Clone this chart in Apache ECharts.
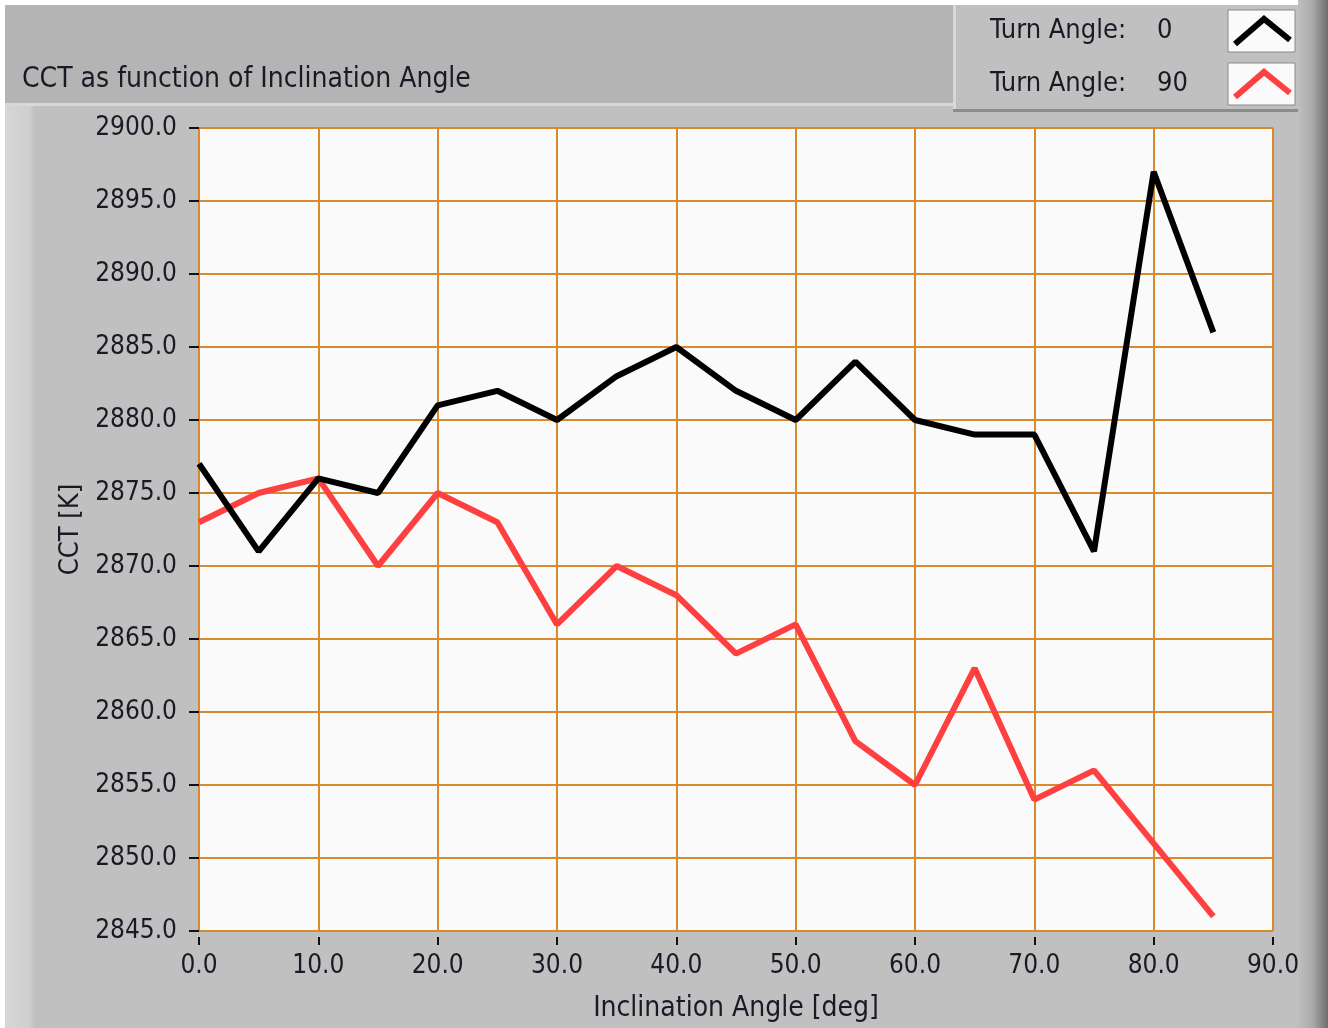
<!DOCTYPE html>
<html>
<head>
<meta charset="utf-8">
<script src="https://cdn.jsdelivr.net/npm/echarts@6/dist/echarts.min.js"></script>
<style>
html,body{margin:0;padding:0;background:#ffffff;}
#chart{width:1328px;height:1028px;}
</style>
</head>
<body>
<div id="chart"></div>
<script>
// ---- data ----
const inclination = [0, 5, 10, 15, 20, 25, 30, 35, 40, 45, 50, 55, 60, 65, 70, 75, 80, 85];
const cctTurn0  = [2877, 2871, 2876, 2875, 2881, 2882, 2880, 2883, 2885, 2882, 2880, 2884, 2880, 2879, 2879, 2871, 2897, 2886];
const cctTurn90 = [2873, 2875, 2876, 2870, 2875, 2873, 2866, 2870, 2868, 2864, 2866, 2858, 2855, 2863, 2854, 2856, 2851, 2846];
const seriesNames = ['0', '90'];
const seriesColors = ['#000000', '#ff4040'];
const titleText = 'CCT as function of Inclination Angle';
const xName = 'Inclination Angle [deg]';
const yName = 'CCT [K]';
const legendPrefix = 'Turn Angle:';

const FONT = '"Liberation Sans Narrow", "DejaVu Sans Condensed", "DejaVu Sans", sans-serif';
const TXT = '#1a1a26';
const GRIDC = '#d88a2c';

const pairs = (ys) => inclination.map((x, i) => [x, ys[i]]);

const chart = echarts.init(document.getElementById('chart'), null, {renderer: 'canvas'});

function legendRow(i, cy) {
  return [
    {type: 'rect', z: -96, shape: {x: 1228, y: cy - 21, width: 67, height: 42}, style: {fill: '#fafafa', stroke: '#8a8a8a', lineWidth: 1}},
    {type: 'polyline', z: 5, shape: {points: [[1235, cy + 13], [1264, cy - 12], [1290, cy + 9]]},
     style: {stroke: seriesColors[i], lineWidth: 6, fill: null}},
    {type: 'text', z: 10, x: 990, y: cy, style: {text: legendPrefix, fill: TXT, font: '27px ' + FONT, verticalAlign: 'middle'}},
    {type: 'text', z: 10, x: 1157, y: cy, style: {text: seriesNames[i], fill: TXT, font: '27px ' + FONT, verticalAlign: 'middle'}}
  ];
}

chart.setOption({
  animation: false,
  backgroundColor: '#ffffff',
  graphic: [
    // main panel
    {type: 'rect', z: -100, shape: {x: 5, y: 103, width: 1323, height: 925}, style: {fill: '#c0c0c0'}},
    // left light strip
    {type: 'rect', z: -99, shape: {x: 5, y: 103, width: 30, height: 925},
     style: {fill: new echarts.graphic.LinearGradient(0, 0, 1, 0, [{offset: 0, color: '#d6d6d6'}, {offset: 0.8, color: '#cfcfcf'}, {offset: 1, color: '#c0c0c0'}])}},
    // right dark strip
    {type: 'rect', z: -99, shape: {x: 1298, y: 0, width: 30, height: 1028},
     style: {fill: new echarts.graphic.LinearGradient(0, 0, 1, 0, [{offset: 0, color: '#c0c0c0'}, {offset: 0.5, color: '#a8a8a8'}, {offset: 1, color: '#6e6e6e'}])}},
    // top title band
    {type: 'rect', z: -98, shape: {x: 5, y: 5, width: 948, height: 98}, style: {fill: '#b4b4b4'}},
    {type: 'rect', z: -97, shape: {x: 5, y: 103, width: 948, height: 3}, style: {fill: '#d8d8d8'}},
    // legend panel
    {type: 'rect', z: -98, shape: {x: 953, y: 5, width: 345, height: 106}, style: {fill: '#c0c0c0'}},
    {type: 'rect', z: -97, shape: {x: 953, y: 5, width: 3, height: 106}, style: {fill: '#d8d8d8'}},
    {type: 'rect', z: -97, shape: {x: 953, y: 109, width: 345, height: 3}, style: {fill: '#8c8c8c'}},
    ...legendRow(0, 31),
    ...legendRow(1, 84),
    // title text
    {type: 'text', z: 10, x: 22, y: 80, style: {text: titleText, fill: TXT, font: '28px ' + FONT, verticalAlign: 'middle'}}
  ],
  grid: {
    left: 199, top: 128, width: 1074, height: 803,
    outerBoundsMode: 'none', containLabel: false,
    show: true, backgroundColor: '#fafafa', borderColor: '#9a9a9a', borderWidth: 1
  },
  xAxis: {
    type: 'value', min: 0, max: 90, interval: 10,
    offset: 6,
    name: xName, nameLocation: 'middle', nameGap: 58,
    nameTextStyle: {color: TXT, fontFamily: FONT, fontSize: 28},
    axisLine: {show: false},
    axisTick: {show: true, length: 8, lineStyle: {color: '#111', width: 2}},
    axisLabel: {margin: 16, color: TXT, fontFamily: FONT, fontSize: 26, formatter: (v) => v.toFixed(1)},
    splitLine: {show: true, lineStyle: {color: GRIDC, width: 2}}
  },
  yAxis: {
    type: 'value', min: 2845, max: 2900, interval: 5,
    offset: 6,
    name: yName, nameLocation: 'middle', nameGap: 97,
    nameTextStyle: {color: TXT, fontFamily: FONT, fontSize: 27},
    axisLine: {show: false},
    axisTick: {show: true, length: 10, lineStyle: {color: '#111', width: 2}},
    axisLabel: {margin: 16, color: TXT, fontFamily: FONT, fontSize: 26, formatter: (v) => v.toFixed(1)},
    splitLine: {show: true, lineStyle: {color: GRIDC, width: 2}}
  },
  series: [
    {name: seriesNames[0], type: 'line', data: pairs(cctTurn0), showSymbol: false, symbol: 'none',
     color: seriesColors[0], lineStyle: {color: seriesColors[0], width: 6}, z: 3},
    {name: seriesNames[1], type: 'line', data: pairs(cctTurn90), showSymbol: false, symbol: 'none',
     color: seriesColors[1], lineStyle: {color: seriesColors[1], width: 6}, z: 2}
  ]
});
</script>
</body>
</html>
